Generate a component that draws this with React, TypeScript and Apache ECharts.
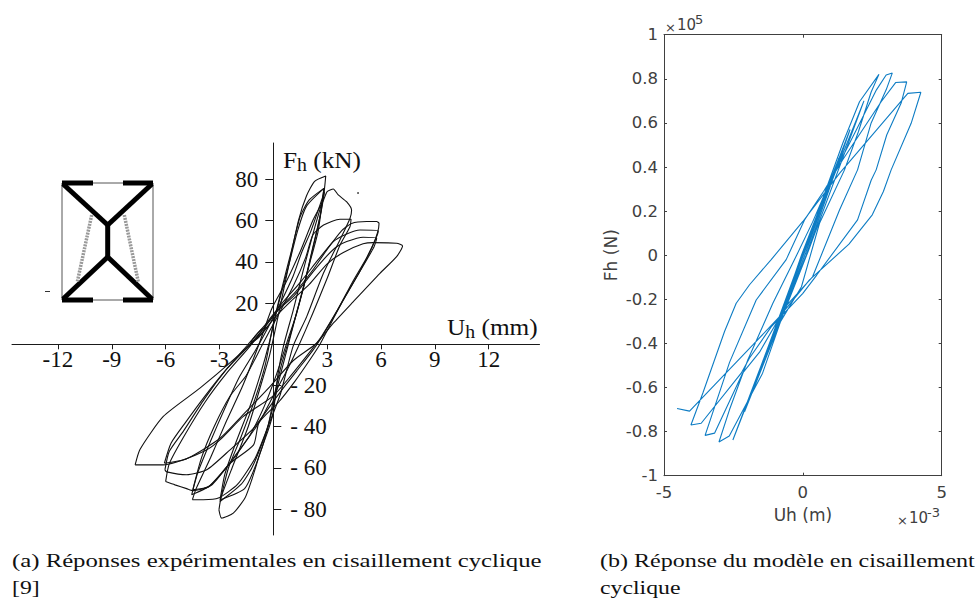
import React, { useEffect, useRef } from "react";
import * as echarts from "echarts";

type P = [number, number];

// ---------- (a) experimental loops: Uh (mm), Fh (kN) ----------
const loopSteepA: P[] = [[-3.03,-80.3],[-2.9,-74],[-2.3,-60],[-1.4,-40],[-0.7,-20],[-0.2,-5],[0.3,15],[0.9,40],[1.4,60],[1.85,72],[2.3,79],[2.92,81.6],[2.79,71.6],[2.32,57],[1.67,36],[1.11,16.6],[0.56,-1],[0.25,-15],[0,-33],[-0.28,-41.5],[-0.74,-52.8],[-1.2,-65.7],[-1.58,-74.6],[-2.23,-81.9],[-2.88,-84.3],[-3.03,-80.3]];
const loopSteepB: P[] = [[-2.97,-76.3],[-2.5,-60],[-1.8,-45],[-1,-26],[-0.45,-10],[0,10],[0.5,28],[1,45],[1.5,62],[2,70],[2.82,75.6],[2.6,62],[2.2,47],[1.7,28],[1.2,12],[0.75,-3],[0.3,-18],[0,-30],[-0.5,-45],[-1.2,-60],[-1.8,-68],[-2.97,-76.3]];
const loopSteepC: P[] = [[-2.97,-75.5],[-2.7,-63],[-2.1,-48],[-1.3,-30],[-0.7,-14],[-0.25,0],[0.3,20],[0.85,38],[1.35,55],[1.85,67],[2.82,75.6],[2.5,55],[2.05,40],[1.5,22],[1,6],[0.45,-10],[0.05,-25],[-0.35,-42],[-0.95,-58],[-1.6,-70],[-2.97,-75.5]];
const loopInner: P[] = [[-4.55,-73],[-4.2,-62],[-3.5,-47],[-2.7,-31],[-1.9,-16],[-1,-3],[-0.3,8],[0.4,20],[1.1,33],[1.6,45],[2.1,55],[2.85,74],[2.7,66],[2.3,50],[1.8,32],[1.3,15],[0.8,2],[0.2,-14],[-0.5,-30],[-1.3,-44],[-2.3,-56],[-3.4,-68],[-4.55,-73]];
const loopJagged: P[] = [[-4.51,-75.4],[-4.3,-70],[-3.5,-55],[-2.6,-37],[-1.7,-20],[-0.8,0],[-0.1,17],[0.7,30],[1.5,45],[2.2,60],[2.8,70],[3,74],[3.34,75.3],[3.62,72.4],[4.09,69],[4.36,65],[4.27,61],[3.71,50.6],[2.79,34.4],[1.86,13.4],[1.1,-1],[0.4,-24],[-0.3,-40],[-1,-55],[-2,-68],[-3.06,-74.6],[-3.9,-75.4],[-4.51,-75.4]];
const loopMid: P[] = [[-4.49,-70.6],[-4,-55],[-3.3,-40],[-2.4,-25],[-1.5,-15],[-0.6,0],[0.2,13],[1.1,28],[1.8,42],[2.2,53],[2.8,57.8],[3.71,60.6],[4.33,60.6],[4.27,57],[3.71,48],[3,32],[2.2,15],[1.4,-1],[0.8,-12],[0,-25],[-0.8,-38],[-1.6,-48],[-2.4,-57.7],[-3.6,-69],[-4.49,-70.6]];
const loopWide1: P[] = [[-6,-66.6],[-5.8,-58],[-5,-45],[-3.8,-28],[-2.6,-14],[-1.4,-2],[-0.5,8],[0.4,18],[1.2,25],[2.2,36],[3,46],[3.8,55],[4.36,58.6],[5.2,59.5],[5.76,59.5],[5.89,58.6],[5.8,54],[5.5,47],[4.8,35],[4,23],[3.2,10],[2.6,0],[2,-8],[1.2,-18],[0.3,-28],[-0.8,-38],[-1.1,-48.8],[-2.4,-57.7],[-3.6,-69],[-4.46,-71],[-4.83,-70],[-5.48,-68.2],[-6,-66.6]];
const loopWide2: P[] = [[-6.04,-60.9],[-5.8,-52],[-5,-42],[-3.8,-26],[-2.6,-12],[-1.4,0],[-0.4,10],[0.4,19],[1.5,30],[2.5,41],[3.34,49.8],[4.09,53.5],[4.83,55.4],[5.85,55],[5.7,51],[5.2,42],[4.4,30],[3.6,17],[2.8,5],[2.2,-3],[1.3,-13],[0.4,-23],[-1.1,-40.7],[-2.41,-51.2],[-3.71,-60.9],[-4.83,-63.3],[-5.94,-61.9],[-6.04,-60.9]];
const loopWide3: P[] = [[-6.07,-57.7],[-5.7,-48],[-4.9,-38],[-3.8,-25],[-2.7,-13],[-1.5,-2],[-0.7,6],[0.2,16],[1.2,24],[2.2,35],[3,43],[3.53,47.3],[4.09,49.8],[5,51.9],[5.76,51.4],[5.6,47],[5,38],[4.2,26],[3.4,14],[2.7,4],[2.1,-3],[1,-15],[0,-25],[-1.67,-35],[-2.88,-45.6],[-3.71,-51.2],[-5.01,-56],[-6.07,-57.7]];
const loopLargest: P[] = [[-7.7,-58.5],[-7.43,-51],[-6.13,-35],[-4.09,-21.3],[-2.23,-7.6],[-0.74,4.5],[0.2,14],[1,21],[2,29],[3,39],[3.9,44.5],[5,48.7],[5.57,49.3],[6.87,49],[7.2,47.7],[6.87,42.5],[5.94,34.4],[4.46,20.7],[3.34,10.2],[2.41,0.5],[1.1,-8],[-0.19,-20.5],[-1.67,-34],[-2.97,-45.6],[-4.74,-55.2],[-6.13,-58.5],[-7.7,-58.5]];
const loopCentral: P[] = [[-1.3,0],[-0.8,3.5],[-0.3,8.5],[-0.7,7],[-1.1,3],[-1.3,0]];
const experimentalLoops = [loopSteepA, loopSteepB, loopSteepC, loopInner, loopJagged, loopMid, loopWide1, loopWide2, loopWide3, loopLargest, loopCentral];

// ---------- (b) model response: Uh (1e-3 m), Fh (1e5 N) ----------
const modelResponse: P[] = [
  [0,0],[0.9,0.3],[0.05,0.01],[-0.9,-0.31],[-0.05,0.0],[1.3,0.44],[0.1,0.01],[-1.3,-0.45],[-0.1,-0.02],[1.7,0.57],[0.12,0.0],[-1.7,-0.57],[-0.12,-0.03],[2.2,0.7],[0.2,0.02],[-2.1,-0.71],
  [-0.7,-0.24],[-1.5,-0.51],[-2.52,-0.838],
  [-1.5,-0.5],[-0.7,-0.23],[0,0],[0.84,0.3],[1.44,0.509],[2.04,0.696],[2.74,0.82],
  [2.46,0.74],[2,0.56],[1.5,0.387],[0.6,0.145],[-0.05,-0.143],[-0.8,-0.3],[-1.45,-0.535],[-2.65,-0.82],[-3.02,-0.847],
  [-2.64,-0.7],[-1.98,-0.474],[-1.08,-0.218],[-0.3,-0.02],[0.35,0.15],[1,0.34],[1.92,0.567],[2.65,0.75],[3,0.817],[3.22,0.826],
  [3,0.75],[2.46,0.6],[1.97,0.387],[1.32,0.205],[0.35,-0.098],[-0.6,-0.23],[-1.56,-0.44],[-2.17,-0.535],[-3.18,-0.807],[-3.52,-0.817],
  [-2.64,-0.486],[-1.68,-0.203],[-0.6,-0.02],[0.06,0.16],[0.75,0.29],[1.43,0.432],[2.82,0.696],[3.34,0.783],[3.74,0.786],
  [3.54,0.69],[3.02,0.545],[2.64,0.387],[2.46,0.34],[1.97,0.16],[0.5,-0.09],[0,-0.173],[-1.14,-0.325],[-1.92,-0.466],[-2.22,-0.535],[-3.66,-0.762],[-4.03,-0.77],
  [-3.6,-0.625],[-2.82,-0.346],[-2.4,-0.218],[-1.92,-0.134],[-1.14,-0.02],[0,0.153],[1.32,0.371],[3.78,0.734],[4.25,0.739],
  [3.9,0.598],[3.18,0.387],[2.9,0.289],[2.5,0.183],[1.66,0.05],[0.24,-0.112],[-0.84,-0.279],[-1.8,-0.407],[-4.08,-0.707],[-4.53,-0.695],
];

// ---------- tick labels ----------
const uhTicks = [-12, -9, -6, -3, 3, 6, 9, 12];
const fhPositiveTicks = [20, 40, 60, 80];
const fhNegativeTicks = [-20, -40, -60, -80];

const SERIF = "'Liberation Serif', serif";
const SANS = "'DejaVu Sans', sans-serif";
const GREY = "#404040";
const INK = "#1a1a1a";

const thick = (x1: number, y1: number, x2: number, y2: number, w = 5) => ({
  type: "line", shape: { x1, y1, x2, y2 }, style: { stroke: "#000", lineWidth: w },
});
const thin = (x1: number, y1: number, x2: number, y2: number, c = "#555") => ({
  type: "line", shape: { x1, y1, x2, y2 }, style: { stroke: c, lineWidth: 1 },
});
const hatch = (x1: number, y1: number, x2: number, y2: number) => ({
  type: "line", shape: { x1, y1, x2, y2 }, style: { stroke: "#999", lineWidth: 3.5, lineDash: [2, 1] },
});
const caption = (text: string, x: number, y: number, scaleX: number) => ({
  type: "text", x, y, scaleX, style: { text, font: `19px ${SERIF}`, fill: "#111", textVerticalAlign: "middle" },
});
const axisTitle = (text: string, x: number, y: number) => ({
  type: "text", x, y, scaleX: 1.1,
  style: {
    text, font: `23px ${SERIF}`, fill: "#111", textVerticalAlign: "middle",
    rich: { s: { fontSize: 18, fontFamily: SERIF, fill: "#111", padding: [10, 0, 0, 0] } },
  },
});

const inset = [
  thin(62, 183, 62, 300), thin(153, 183, 153, 300), thin(93, 183, 123, 183), thin(93, 300, 123, 300),
  thick(62, 183, 93, 183), thick(123, 183, 153, 183), thick(62, 300, 93, 300), thick(123, 300, 153, 300),
  thick(63, 184, 107.7, 225), thick(152, 184, 107.7, 225), thick(107.7, 225, 107.7, 257),
  thick(107.7, 257, 63, 299), thick(107.7, 257, 152, 299),
  hatch(91.7, 215, 77.3, 282), hatch(124.3, 215, 138.3, 282),
  thin(45, 291.5, 50, 291.5, "#333"),
  { type: "circle", shape: { cx: 358, cy: 193, r: 0.8 }, style: { fill: "#222" } },
];

const option: any = {
  animation: false,
  backgroundColor: "#fff",
  grid: [
    { left: 12, top: 143, width: 527.5, height: 392, outerBoundsMode: "none" },
    { left: 664, top: 34.7, width: 277.7, height: 441, outerBoundsMode: "none" },
  ],
  xAxis: [
    {
      gridIndex: 0, type: "value", position: "bottom", offset: -190.7, min: -14.56, max: 14.83, splitLine: { show: false },
      axisLine: { onZero: false, lineStyle: { color: INK, width: 1 } },
      axisTick: { customValues: uhTicks, length: 5, lineStyle: { color: INK } },
      axisLabel: { customValues: uhTicks, margin: 4, fontFamily: SERIF, fontSize: 23, color: "#111" },
    },
    {
      gridIndex: 1, type: "value", min: -5, max: 5, interval: 5, splitLine: { show: false },
      name: "Uh (m)", nameLocation: "middle", nameGap: 31,
      nameTextStyle: { fontFamily: SANS, fontSize: 17, color: GREY },
      axisLine: { onZero: false, lineStyle: { color: GREY, width: 1 } },
      axisTick: { inside: true, length: 3, lineStyle: { color: GREY } },
      axisLabel: { margin: 8, fontFamily: SANS, fontSize: 16.5, color: GREY },
    },
    {
      gridIndex: 1, type: "value", position: "top", min: -5, max: 5, interval: 5, splitLine: { show: false },
      axisLine: { onZero: false, lineStyle: { color: GREY, width: 1 } },
      axisTick: { inside: true, length: 3, lineStyle: { color: GREY } },
      axisLabel: { show: false },
    },
  ],
  yAxis: [
    {
      gridIndex: 0, type: "value", position: "left", offset: -261.3, min: -92.5, max: 97.6, splitLine: { show: false },
      axisLine: { onZero: false, lineStyle: { color: INK, width: 1 } },
      axisTick: { customValues: fhPositiveTicks, length: 8, lineStyle: { color: INK } },
      axisLabel: { customValues: fhPositiveTicks, margin: 15, fontFamily: SERIF, fontSize: 23, color: "#111" },
    },
    {
      gridIndex: 0, type: "value", position: "left", offset: -261.3, min: -92.5, max: 97.6, splitLine: { show: false },
      axisLine: { show: false, onZero: false },
      axisTick: { inside: true, customValues: fhNegativeTicks, length: 8, lineStyle: { color: INK } },
      axisLabel: {
        inside: true, customValues: fhNegativeTicks, margin: 17, fontFamily: SERIF, fontSize: 23, color: "#111",
        formatter: (v: number) => `- ${Math.abs(v)}`,
      },
    },
    {
      gridIndex: 1, type: "value", position: "left", min: -1, max: 1, interval: 0.2, splitLine: { show: false },
      name: "Fh (N)", nameLocation: "middle", nameGap: 45, nameRotate: 90,
      nameTextStyle: { fontFamily: SANS, fontSize: 17, color: GREY },
      axisLine: { onZero: false, lineStyle: { color: GREY, width: 1 } },
      axisTick: { inside: true, length: 3, lineStyle: { color: GREY } },
      axisLabel: {
        margin: 6, fontFamily: SANS, fontSize: 16.5, color: GREY,
        formatter: (v: number) => String(Math.round(v * 10) / 10),
      },
    },
    {
      gridIndex: 1, type: "value", position: "right", min: -1, max: 1, interval: 0.2, splitLine: { show: false },
      axisLine: { onZero: false, lineStyle: { color: GREY, width: 1 } },
      axisTick: { inside: true, length: 3, lineStyle: { color: GREY } },
      axisLabel: { show: false },
    },
  ],
  series: [
    ...experimentalLoops.map((loop) => ({
      type: "line", xAxisIndex: 0, yAxisIndex: 0, data: loop, showSymbol: false, symbol: "none", smooth: 0.2, clip: false,
      lineStyle: { color: "#111", width: 1.1 },
    })),
    {
      type: "line", xAxisIndex: 1, yAxisIndex: 2, data: modelResponse, showSymbol: false, symbol: "none",
      lineStyle: { color: "#0d7cc4", width: 1.1 },
    },
  ],
  graphic: [
    ...inset,
    axisTitle("F{s|h} (kN)", 283, 160),
    axisTitle("U{s|h} (mm)", 447, 327),
    { type: "text", x: 665, y: 27, style: { text: "×", font: `13px ${SANS}`, fill: GREY, textVerticalAlign: "middle" } },
    { type: "text", x: 677, y: 25, style: { text: "10", font: `15px ${SANS}`, fill: GREY, textVerticalAlign: "middle" } },
    { type: "text", x: 695, y: 19, style: { text: "5", font: `13px ${SANS}`, fill: GREY, textVerticalAlign: "middle" } },
    { type: "text", x: 897, y: 520, style: { text: "×", font: `13px ${SANS}`, fill: GREY, textVerticalAlign: "middle" } },
    { type: "text", x: 909, y: 518, style: { text: "10", font: `15px ${SANS}`, fill: GREY, textVerticalAlign: "middle" } },
    { type: "text", x: 927, y: 512, style: { text: "-3", font: `13px ${SANS}`, fill: GREY, textVerticalAlign: "middle" } },
    caption("(a) Réponses expérimentales en cisaillement cyclique", 12, 561, 1.303),
    caption("[9]", 12, 587.5, 1.25),
    caption("(b) Réponse du modèle en cisaillement", 600, 561, 1.267),
    caption("cyclique", 600, 587.5, 1.25),
  ],
};

export default function App() {
  const ref = useRef<HTMLDivElement>(null);
  useEffect(() => {
    if (!ref.current) return;
    const chart = echarts.init(ref.current, undefined, { renderer: "svg" });
    chart.setOption(option);
    return () => chart.dispose();
  }, []);
  return <div ref={ref} style={{ position: "absolute", left: 0, top: 0, width: 979, height: 599 }} />;
}
